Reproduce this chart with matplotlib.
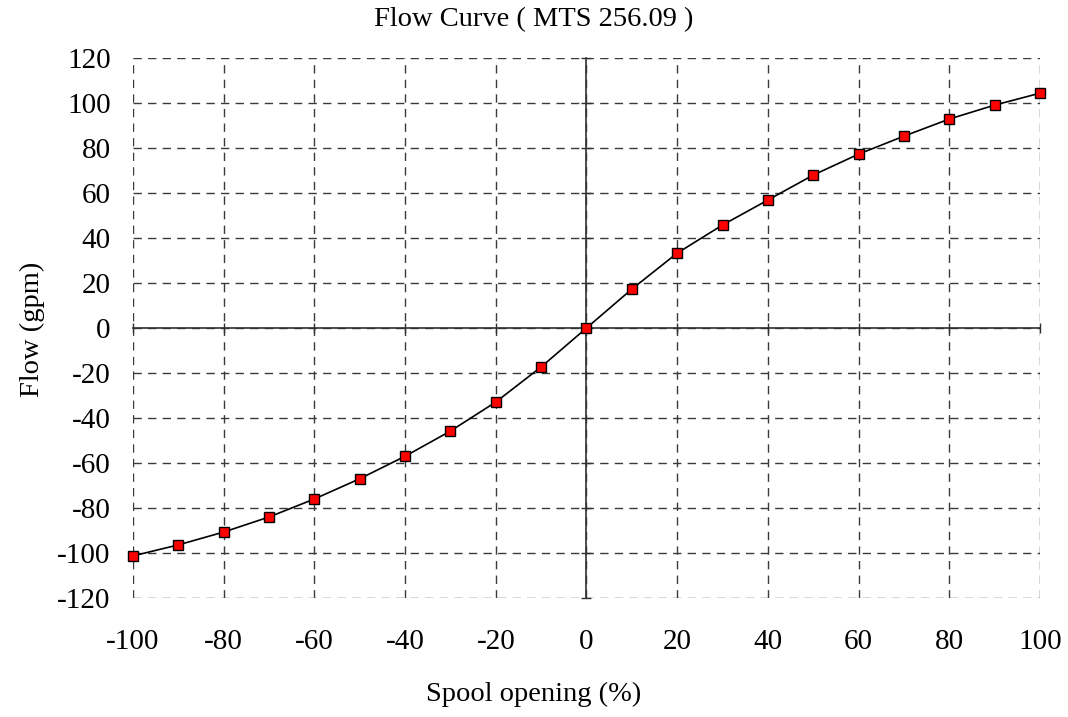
import matplotlib
matplotlib.use("Agg")
import matplotlib.pyplot as plt

spool = [-100, -90, -80, -70, -60, -50, -40, -30, -20, -10, 0,
         10, 20, 30, 40, 50, 60, 70, 80, 90, 100]
flow = [-101.3, -96.4, -90.7, -84.0, -76.0, -67.0, -57.0, -45.8, -32.9, -17.3, 0.0,
        17.3, 33.3, 45.8, 56.9, 68.0, 77.3, 85.3, 92.9, 99.1, 104.4]
xticks = list(range(-100, 101, 20))
yticks = list(range(-120, 121, 20))

plt.rcParams["font.family"] = ["Liberation Serif", "DejaVu Serif"]
plt.rcParams["axes.unicode_minus"] = False

fig = plt.figure(figsize=(10.68, 7.17), dpi=100)
ax = fig.add_axes([0.1245, 0.166, 0.8493, 0.753])

ax.set_xlim(-100, 100)
ax.set_ylim(-120, 120)
ax.set_xticks(xticks)
ax.set_yticks(yticks)

# dashed grid over the whole plot area
ax.grid(True, color="#3a3a3a", linestyle=(0, (6, 4.5)), linewidth=1)
for gl in ax.get_xgridlines() + ax.get_ygridlines():
    gl.set_clip_on(False)

# solid axes through the origin with small cross ticks
ax.spines["left"].set_position("zero")
ax.spines["bottom"].set_position("zero")
ax.spines["top"].set_visible(False)
ax.spines["right"].set_visible(False)
for s in ("left", "bottom"):
    ax.spines[s].set_color("#303030")
    ax.spines[s].set_linewidth(1.2)
ax.tick_params(direction="inout", length=7, width=1, color="#303030",
               labelbottom=False, labelleft=False)

ax.plot(spool, flow, color="black", linewidth=1.2, marker="s", markersize=7.5,
        markerfacecolor="red", markeredgecolor="black", markeredgewidth=1,
        clip_on=False, zorder=5)

# tick labels along the outer edges
secx = ax.secondary_xaxis("bottom")
secx.set_xticks(xticks)
secx.spines["bottom"].set_visible(False)
secx.tick_params(length=0, pad=22, labelsize=21)
secy = ax.secondary_yaxis("left")
secy.set_yticks(yticks)
secy.spines["left"].set_visible(False)
secy.tick_params(length=0, pad=16, labelsize=21)

fig.text(0.5, 0.972, "Flow Curve ( MTS 256.09 )", ha="center", va="center", fontsize=20.5)
fig.text(0.5, 0.032, "Spool opening (%)", ha="center", va="center", fontsize=20.5)
fig.text(0.03, 0.54, "Flow (gpm)", ha="center", va="center", rotation=90, fontsize=20.5)

fig.savefig("out.png", dpi=100)
